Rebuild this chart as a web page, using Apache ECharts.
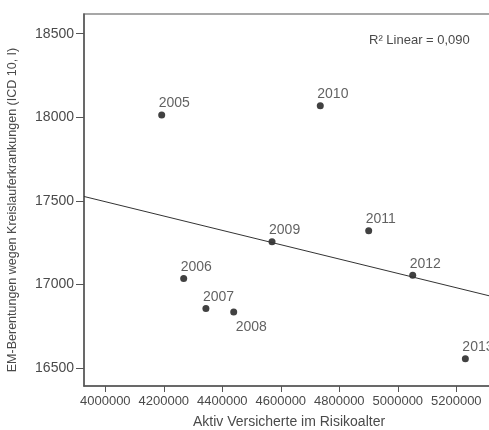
<!DOCTYPE html>
<html>
<head>
<meta charset="utf-8">
<script src="https://cdn.jsdelivr.net/npm/echarts@6/dist/echarts.min.js"></script>
<style>
  html, body { margin: 0; padding: 0; background: #fff; }
  #chart { width: 489px; height: 430px; }
</style>
</head>
<body>
<div id="chart"></div>
<script>
// Jahre, Versicherte (x) und EM-Berentungen (y)
const years = ['2005', '2006', '2007', '2008', '2009', '2010', '2011', '2012', '2013']
const versicherte = [4192800, 4268000, 4344000, 4439000, 4570000, 4735000, 4900500, 5051000, 5231000]
const berentungen = [18014, 17034, 16855, 16834, 17255, 18068, 17321, 17054, 16554]
const xTicks = [4000000, 4200000, 4400000, 4600000, 4800000, 5000000, 5200000]
const yTicks = [16500, 17000, 17500, 18000, 18500]
const labelBelow = ['2008']

// Achsenbereich (rechter Rand liegt knapp außerhalb des Bildes)
const xMin = 3927200
const xMax = 5328900
const yMin = 16391
const yMax = 18618

// lineare Regression
function linFit(xs, ys) {
  const n = xs.length
  const mx = xs.reduce((a, b) => a + b, 0) / n
  const my = ys.reduce((a, b) => a + b, 0) / n
  let sxy = 0, sxx = 0
  for (let i = 0; i < n; i++) {
    sxy += (xs[i] - mx) * (ys[i] - my)
    sxx += (xs[i] - mx) * (xs[i] - mx)
  }
  const b = sxy / sxx
  return { a: my - b * mx, b: b }
}

const fit = linFit(versicherte, berentungen)
const textColor = '#4a4a4a'
const axisColor = '#555'
const font = '"Liberation Sans", Arial, sans-serif'

const points = years.map((y, i) => {
  const below = labelBelow.includes(y)
  return {
    value: [versicherte[i], berentungen[i], y],
    label: below
      ? { position: 'bottom', align: 'left', offset: [2, 0] }
      : { position: 'top', align: 'left', offset: [-3, 4] }
  }
})

const myChart = echarts.init(document.getElementById('chart'))
myChart.setOption({
  animation: false,
  backgroundColor: '#fff',
  grid: {
    left: 84, top: 14, right: -5, bottom: 44,
    outerBoundsMode: 'none',
    containLabel: false,
    show: true, borderColor: '#8a8a8a', borderWidth: 1.5
  },
  graphic: [
    {
      type: 'text',
      left: 369, top: 34,
      style: { text: 'R² Linear = 0,090', fill: textColor, font: '13px ' + font }
    },
    {
      type: 'text',
      x: 13, y: 210,
      rotation: Math.PI / 2,
      style: {
        text: 'EM-Berentungen wegen Kreislauferkrankungen (ICD 10, I)',
        fill: textColor, font: '12.5px ' + font,
        align: 'center', verticalAlign: 'middle'
      }
    }
  ],
  xAxis: {
    type: 'value',
    min: xMin, max: xMax,
    name: 'Aktiv Versicherte im Risikoalter',
    nameLocation: 'middle', nameGap: 29,
    nameTextStyle: { color: textColor, fontSize: 14, fontFamily: 'Liberation Sans' },
    axisLine: { show: true, lineStyle: { color: axisColor, width: 1.5 } },
    axisTick: { show: true, length: 6, customValues: xTicks, lineStyle: { color: axisColor } },
    axisLabel: {
      customValues: xTicks, formatter: v => String(v),
      color: textColor, fontSize: 13, fontFamily: 'Liberation Sans', margin: 9
    },
    splitLine: { show: false }
  },
  yAxis: {
    type: 'value',
    min: yMin, max: yMax,
    axisLine: { show: true, lineStyle: { color: axisColor, width: 1.5 } },
    axisTick: { show: true, length: 8, customValues: yTicks, lineStyle: { color: axisColor } },
    axisLabel: {
      customValues: yTicks, formatter: v => String(v),
      color: textColor, fontSize: 14, fontFamily: 'Liberation Sans', margin: 10
    },
    splitLine: { show: false }
  },
  series: [
    {
      type: 'line',
      data: [[xMin, fit.a + fit.b * xMin], [xMax, fit.a + fit.b * xMax]],
      showSymbol: false,
      symbol: 'none',
      lineStyle: { color: '#333', width: 1 },
      silent: true
    },
    {
      type: 'scatter',
      data: points,
      symbol: 'circle',
      symbolSize: 7,
      itemStyle: { color: '#111' },
      label: {
        show: true,
        formatter: p => p.value[2],
        color: '#3a3a3a',
        fontSize: 14,
        fontFamily: 'Liberation Sans'
      }
    }
  ]
})
</script>
</body>
</html>
